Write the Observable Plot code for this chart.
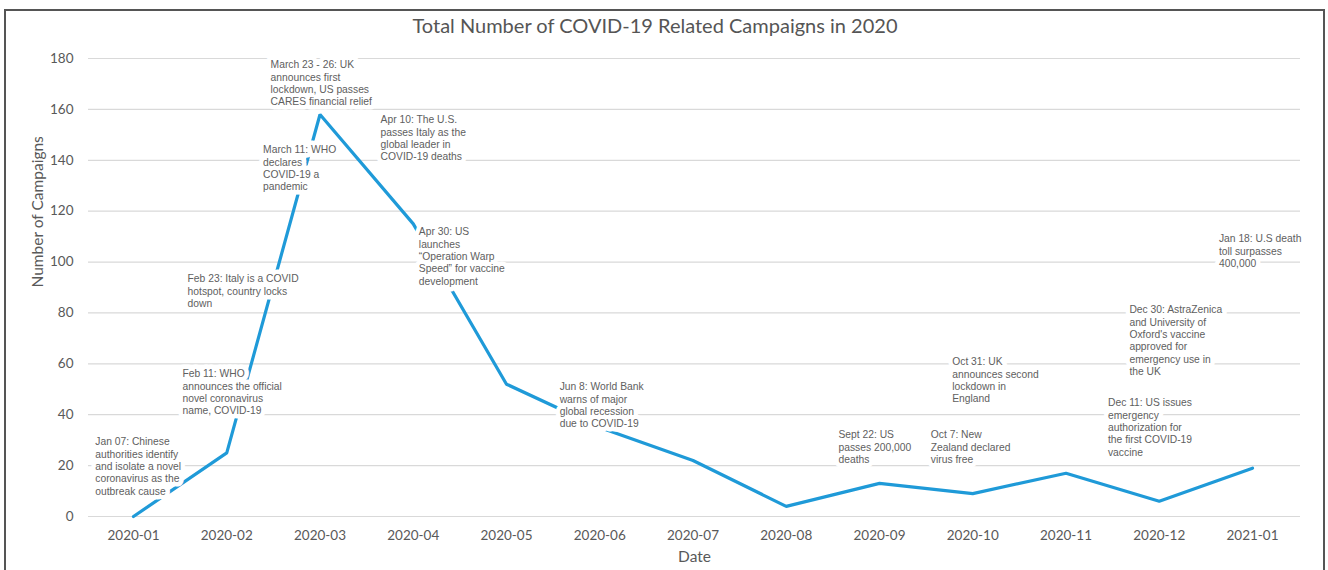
<!DOCTYPE html>
<html>
<head>
<meta charset="utf-8">
<script src="https://cdn.jsdelivr.net/npm/d3@7"></script>
<script src="https://cdn.jsdelivr.net/npm/@observablehq/plot@0.6"></script>
<style>
  html, body { margin: 0; padding: 0; background: #fff; width: 1328px; height: 570px; overflow: hidden; }
  #frame { position: absolute; left: 4px; top: 9px; width: 1321px; height: 640px; border: 2px solid #555; box-sizing: border-box; }
  #title { position: absolute; left: 0; top: 12px; width: 1310px; text-align: center; font-family: Lato, "Open Sans", sans-serif; font-size: 20px; line-height: 26px; color: #555; }
  #chart { position: absolute; left: 0; top: 40px; }
</style>
</head>
<body>
<div id="frame"></div>
<div id="title">Total Number of COVID-19 Related Campaigns in 2020</div>
<div id="chart"></div>
<script>
// Month categories (x tick labels)
const months = ["2020-01", "2020-02", "2020-03", "2020-04", "2020-05", "2020-06", "2020-07",
                "2020-08", "2020-09", "2020-10", "2020-11", "2020-12", "2021-01"];
// Number of campaigns per month
const campaigns = [0, 25, 158, 115, 52, 35, 22, 4, 13, 9, 17, 6, 19];
// Y tick values
const yTicks = [0, 20, 40, 60, 80, 100, 120, 140, 160, 180];
// Annotation texts
const annoText = [
  "Jan 07: Chinese\nauthorities identify\nand isolate a novel\ncoronavirus as the\noutbreak cause",
  "Feb 11: WHO\nannounces the official\nnovel coronavirus\nname, COVID-19",
  "Feb 23: Italy is a COVID\nhotspot, country locks\ndown",
  "March 11: WHO\ndeclares\nCOVID-19 a\npandemic",
  "March 23 - 26: UK\nannounces first\nlockdown, US passes\nCARES financial relief",
  "Apr 10: The U.S.\npasses Italy as the\nglobal leader in\nCOVID-19 deaths",
  "Apr 30: US\nlaunches\n\u201COperation Warp\nSpeed\u201D for vaccine\ndevelopment",
  "Jun 8: World Bank\nwarns of major\nglobal recession\ndue to COVID-19",
  "Sept 22: US\npasses 200,000\ndeaths",
  "Oct 7: New\nZealand declared\nvirus free",
  "Oct 31: UK\nannounces second\nlockdown in\nEngland",
  "Dec 11: US issues\nemergency\nauthorization for\nthe first COVID-19\nvaccine",
  "Dec 30: AstraZenica\nand University of\nOxford's vaccine\napproved for\nemergency use in\nthe UK",
  "Jan 18: U.S death\ntoll surpasses\n400,000"
];
// Annotation anchors in data units (month index, campaigns)
const annoMonth = [-0.41, 0.525, 0.58, 1.39, 1.47, 2.65, 3.06, 4.57, 7.56, 8.55, 8.78, 10.45, 10.68, 11.64];
const annoValue = [31.4, 58.2, 95.5, 146.2, 179.6, 158.0, 114.0, 53.1, 34.2, 34.2, 62.9, 46.8, 83.3, 111.2];

const series = months.map((m, i) => ({i, month: m, value: campaigns[i]}));
const annotations = annoText.map((t, k) => ({text: t, x: annoMonth[k], y: annoValue[k]}));

const annoOpts = {x: "x", y: "y", text: "text", textAnchor: "start", lineAnchor: "top",
  fontSize: 10.3, lineHeight: 1.2, fontFamily: "'Liberation Sans', Arial, sans-serif"};

const chart = Plot.plot({
  width: 1328,
  height: 530,
  marginLeft: 88,
  marginRight: 28,
  marginTop: 18,
  marginBottom: 54,
  style: {fontFamily: "Lato, 'Open Sans', sans-serif", fontSize: "13.5px", color: "#595959", background: "transparent"},
  x: {type: "linear", domain: [0, 12], range: [133, 1252], ticks: d3.range(13), tickFormat: i => months[i], tickSize: 0, tickPadding: 14, label: null},
  y: {domain: [0, 180], ticks: yTicks, tickSize: 0, tickPadding: 15, label: null},
  marks: [
    Plot.ruleY(yTicks, {stroke: "#d9d9d9", strokeWidth: 1.2}),
    Plot.line(series, {x: "i", y: "value", stroke: "#1f9ad8", strokeWidth: 3.2, strokeLinejoin: "miter"}),
    // white backing boxes for the annotations
    Plot.text(annotations, {...annoOpts, fill: "white", stroke: "white", strokeWidth: 9, strokeLinejoin: "round"}),
    Plot.text(annotations, {...annoOpts, fill: "#606060"}),
    Plot.text(["Number of Campaigns"], {frameAnchor: "left", rotate: -90, dx: -50, fontSize: 15.5, fill: "#595959"}),
    Plot.text(["Date"], {frameAnchor: "bottom", dy: 45, fontSize: 15.5, fill: "#595959"})
  ]
});
document.getElementById("chart").appendChild(chart);
</script>
</body>
</html>
